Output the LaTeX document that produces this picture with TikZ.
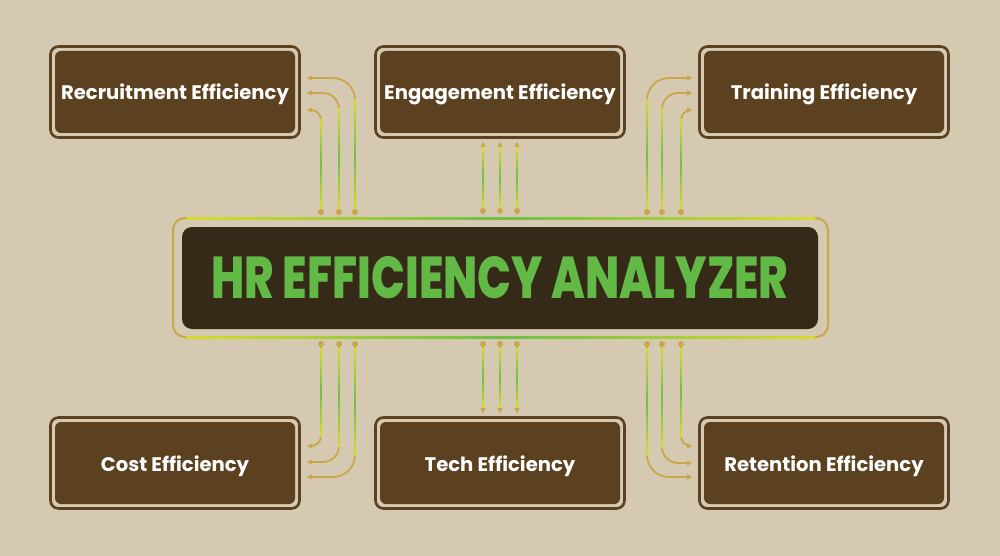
\documentclass[tikz,border=0pt]{standalone}
\usepackage{fontspec}
\usepackage{graphicx}
\setmainfont{Poppins}
\newfontfamily\heavyfont{Poppins ExtraBold}
\usetikzlibrary{arrows.meta,calc}
\definecolor{bgc}{RGB}{213,201,178}
\definecolor{boxc}{RGB}{92,65,32}
\definecolor{darkc}{RGB}{53,41,24}
\definecolor{titlec}{RGB}{99,185,70}
\definecolor{goldc}{RGB}{201,168,76}
\definecolor{yelc}{RGB}{228,222,40}
\definecolor{grnc}{RGB}{108,192,70}
\pgfdeclareverticalshading{vgrad}{100bp}{color(0bp)=(goldc); color(22bp)=(yelc); color(50bp)=(grnc); color(78bp)=(yelc); color(100bp)=(goldc)}
\pgfdeclarehorizontalshading{hgrad}{100bp}{color(0bp)=(goldc); color(22bp)=(yelc); color(50bp)=(grnc); color(78bp)=(yelc); color(100bp)=(goldc)}
\begin{document}
\begin{tikzpicture}[x=1pt,y=-1pt,
  card/.style={draw=boxc, line width=2.6pt, fill=bgc, rounded corners=8pt,
    minimum width=249pt, minimum height=91pt, inner sep=0pt, text=white,
    text height=20pt, text depth=4pt,
    font=\bfseries\fontsize{19.6}{22}\selectfont,
    path picture={\fill[boxc, rounded corners=6pt]
      ([shift={(4.5,4.5)}]path picture bounding box.north west) rectangle
      ([shift={(-4.5,-4.5)}]path picture bounding box.south east);}},
  conn/.style={draw=goldc, line width=1.8pt, -{Triangle[length=5pt,width=5pt]}},
  dot/.style={circle, fill=goldc, inner sep=0pt, minimum size=6pt},
  grad/.style={shading=vgrad},
]
\fill[bgc] (0,0) rectangle (1000,556);
\useasboundingbox (0,0) rectangle (1000,556);

% outer boxes
\node[card] (rec) at (175,92) {Recruitment Efficiency};
\node[card] (eng) at (500,92) {Engagement Efficiency};
\node[card] (tra) at (824,92) {Training Efficiency};
\node[card] (cos) at (175,463) {Cost Efficiency};
\node[card] (tec) at (500,463) {Tech Efficiency};
\node[card] (ret) at (824,463) {Retention Efficiency};

% central hub
\node[draw=goldc, line width=2pt, rounded corners=12pt, minimum width=655pt,
      minimum height=119pt, fill=bgc] (frame) at (500.5,277.5) {};
\shade[shading=hgrad] (186,217) rectangle (815,219);
\shade[shading=hgrad] (186,336) rectangle (815,338);
\node[fill=darkc, rounded corners=10pt, minimum width=636pt, minimum height=102pt,
      inner sep=0pt] (hub) at (500,278)
      {\resizebox{577pt}{42pt}{\color{titlec}\heavyfont HR EFFICIENCY ANALYZER}};

% dots
\foreach \n/\x/\y in {a1/355/212,a2/339/212,a3/321/212,
                      b1/483/211,b2/500/211,b3/517/211,
                      c1/647/212,c2/662/212,c3/681/212,
                      d1/355/344,d2/339/344,d3/321/344,
                      e1/483/344,e2/500/344,e3/517/344,
                      f1/647/344,f2/662/344,f3/681/344}
  \node[dot] (\n) at (\x,\y) {};

% top-left connectors
\draw[conn, rounded corners=22pt] (a1.center) |- ($(rec.east)+(6,-14)$);
\draw[conn, rounded corners=16pt] (a2.center) |- ($(rec.east)+(6,1)$);
\draw[conn, rounded corners=10pt] (a3.center) |- ($(rec.east)+(6,18)$);
% top-right connectors
\draw[conn, rounded corners=22pt] (c1.center) |- ($(tra.west)+(-6,-14)$);
\draw[conn, rounded corners=16pt] (c2.center) |- ($(tra.west)+(-6,1)$);
\draw[conn, rounded corners=10pt] (c3.center) |- ($(tra.west)+(-6,18)$);
% top-middle connectors
\foreach \n in {b1,b2,b3}
  \draw[conn, shorten >=3pt] (\n.center) -- (\n.center |- eng.south);
% bottom-left connectors
\draw[conn, rounded corners=22pt] (d1.center) |- ($(cos.east)+(6,14)$);
\draw[conn, rounded corners=16pt] (d2.center) |- ($(cos.east)+(6,-1)$);
\draw[conn, rounded corners=10pt] (d3.center) |- ($(cos.east)+(6,-17)$);
% bottom-right connectors
\draw[conn, rounded corners=22pt] (f1.center) |- ($(ret.west)+(-6,14)$);
\draw[conn, rounded corners=16pt] (f2.center) |- ($(ret.west)+(-6,0)$);
\draw[conn, rounded corners=10pt] (f3.center) |- ($(ret.west)+(-6,-17)$);
% bottom-middle connectors
\foreach \n in {e1,e2,e3}
  \draw[conn, shorten >=3pt] (\n.center) -- (\n.center |- tec.north);

% gradient overlays on straight parts
\foreach \x/\ya/\yb in {355/100/208, 339/109/208, 321/120/208,
                        647/100/208, 662/109/208, 681/120/208,
                        483/148/207, 500/148/207, 517/148/207,
                        355/348/455, 339/348/446, 321/348/436,
                        647/348/455, 662/348/447, 681/348/436,
                        483/348/407, 500/348/407, 517/348/407}
  \shade[grad] (\x-0.9,\ya) rectangle (\x+0.9,\yb);
\end{tikzpicture}
\end{document}
